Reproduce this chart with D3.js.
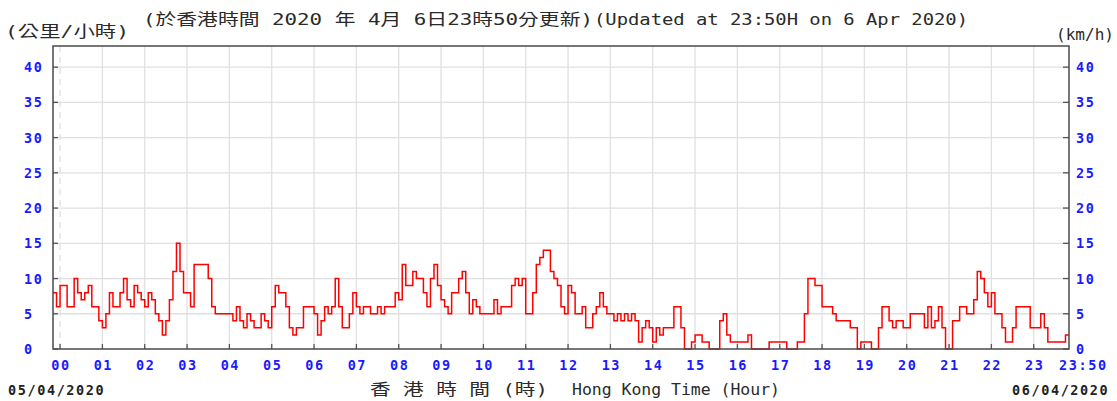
<!DOCTYPE html>
<html><head><meta charset="utf-8">
<script src="https://cdn.jsdelivr.net/npm/d3@7"></script>
<style>body{margin:0;background:#fff;}svg{display:block;}</style>
</head><body>
<svg id="chart" width="1117" height="401"></svg>
<script>
// ---- data ----
const startMinute = -10;   // 23:50 on 05/04/2020
const stepMinutes = 5;
const speeds = [
  8, 6,
  9, 9, 6, 6, 10, 8, 7, 8, 9, 6, 6, 4,
  3, 5, 8, 6, 6, 8, 10, 7, 6, 9, 8, 7,
  6, 8, 7, 5, 4, 2, 4, 7, 11, 15, 11, 8,
  8, 6, 12, 12, 12, 12, 10, 6, 5, 5, 5, 5,
  5, 4, 6, 4, 3, 5, 4, 3, 3, 5, 4, 3,
  6, 9, 8, 8, 6, 3, 2, 3, 3, 6, 6, 6,
  5, 2, 4, 6, 5, 6, 10, 6, 3, 3, 5, 8,
  6, 5, 6, 6, 5, 5, 6, 5, 6, 6, 6, 8,
  7, 12, 9, 9, 11, 10, 10, 8, 6, 10, 12, 9,
  7, 6, 5, 8, 8, 10, 11, 8, 5, 7, 6, 5,
  5, 5, 5, 7, 5, 6, 6, 6, 9, 10, 9, 10,
  5, 5, 8, 12, 13, 14, 14, 11, 10, 9, 6, 5,
  9, 8, 5, 5, 6, 3, 3, 5, 6, 8, 6, 5,
  5, 4, 5, 4, 5, 4, 5, 4, 1, 3, 4, 3,
  1, 3, 2, 3, 3, 3, 6, 6, 3, 0, 0, 1,
  2, 2, 1, 1, 0, 0, 0, 4, 5, 2, 1, 1,
  1, 1, 1, 2, 0, 0, 0, 0, 0, 1, 1, 1,
  1, 1, 0, 0, 0, 1, 1, 5, 10, 10, 9, 9,
  6, 6, 6, 5, 4, 4, 4, 4, 3, 3, 0, 1,
  1, 1, 0, 0, 3, 6, 6, 4, 3, 4, 4, 3,
  3, 5, 5, 5, 5, 3, 6, 3, 4, 6, 3, 0,
  0, 4, 4, 6, 6, 5, 5, 7, 11, 10, 8, 6,
  8, 5, 5, 3, 1, 1, 3, 6, 6, 6, 6, 3,
  3, 3, 5, 3, 1, 1, 1, 1, 1, 2, 2
];
const hourLabels = ["00","01","02","03","04","05","06","07","08","09","10","11",
                    "12","13","14","15","16","17","18","19","20","21","22","23"];
const endLabel = "23:50";
const endMinute = 1430;
const yTickValues = [0, 5, 10, 15, 20, 25, 30, 35, 40];
const yMax = 43;
const unitLeft = "(公里/小時)";
const unitRight = "(km/h)";
const titleZh = "(於香港時間 2020 年 4月 6日23時50分更新)";
const titleEn = "(Updated at 23:50H on 6 Apr 2020)";
const xTitleZh = "香 港 時 間 (時)";
const xTitleEn = "Hong Kong Time (Hour)";
const dateStart = "05/04/2020";
const dateEnd = "06/04/2020";

// ---- layout ----
const svg = d3.select("#chart");
const L = 53, R = 1069, T = 46, B = 349;
const x = d3.scaleLinear().domain([startMinute, endMinute]).range([L, R]);
const y = d3.scaleLinear().domain([0, yMax]).range([B, T]);
const mono = "'DejaVu Sans Mono','Noto Sans CJK TC',monospace";
const blue = "#1a1aff";

const data = speeds.map((v, i) => ({t: startMinute + i * stepMinutes, v}));
const hourMinutes = hourLabels.map((h, i) => i * 60);

// grid
const g = svg.append("g");
g.selectAll("line.vg").data(hourMinutes).join("line")
  .attr("x1", d => x(d)).attr("x2", d => x(d)).attr("y1", T).attr("y2", B)
  .attr("stroke", "#e0e0e0").attr("stroke-width", 1.3)
  .attr("stroke-dasharray", d => d === 0 ? "6,5" : null);
g.selectAll("line.hg").data(yTickValues.filter(d => d > 0)).join("line")
  .attr("x1", L).attr("x2", R).attr("y1", d => y(d)).attr("y2", d => y(d))
  .attr("stroke", "#e0e0e0").attr("stroke-width", 1.3);

// ticks (inside)
g.selectAll("line.bt").data(hourMinutes).join("line")
  .attr("x1", d => x(d)).attr("x2", d => x(d)).attr("y1", B).attr("y2", B - 5)
  .attr("stroke", "#555").attr("stroke-width", 1.3);
g.selectAll("line.lt").data(yTickValues).join("line")
  .attr("x1", L).attr("x2", L + 5).attr("y1", d => y(d)).attr("y2", d => y(d))
  .attr("stroke", "#555").attr("stroke-width", 1.3);
g.selectAll("line.rt").data(yTickValues).join("line")
  .attr("x1", R - 6).attr("x2", R).attr("y1", d => y(d)).attr("y2", d => y(d))
  .attr("stroke", "#555").attr("stroke-width", 1.3);

// series
const line = d3.line().x(d => x(d.t)).y(d => y(d.v)).curve(d3.curveStepAfter);
svg.append("path").datum(data).attr("d", line)
  .attr("fill", "none").attr("stroke", "#ff0000").attr("stroke-width", 1.5)
  .attr("stroke-linejoin", "miter");

// frame
svg.append("rect").attr("x", L).attr("y", T).attr("width", R - L).attr("height", B - T)
  .attr("fill", "none").attr("stroke", "#4a4a4a").attr("stroke-width", 1.5);

// tick labels
const lab = svg.append("g").attr("font-family", mono).attr("font-weight", "bold")
  .attr("font-size", 13.5).attr("fill", blue).attr("letter-spacing", "1.6px");
lab.selectAll("text.yl").data(yTickValues).join("text")
  .attr("x", 24).attr("y", d => y(d) + 5).text(d => d);
lab.selectAll("text.yr").data(yTickValues).join("text")
  .attr("x", 1076).attr("y", d => y(d) + 5).text(d => d);
lab.selectAll("text.xl").data(hourLabels).join("text")
  .attr("x", (d, i) => x(i * 60) + 1).attr("y", 370).attr("text-anchor", "middle").text(d => d);
lab.append("text").attr("x", x(endMinute) - 10).attr("y", 370).text(endLabel);

// dates
const dl = svg.append("g").attr("font-family", mono).attr("font-weight", "bold")
  .attr("font-size", 13.5).attr("fill", "#222").attr("letter-spacing", "1.6px");
dl.append("text").attr("x", 8).attr("y", 395).text(dateStart);
dl.append("text").attr("x", 1012).attr("y", 395).text(dateEnd);

// titles
const tt = svg.append("g").attr("font-family", mono).attr("font-size", 16).attr("fill", "#2a2a2a");
tt.append("text").attr("x", 5).attr("y", 37).attr("textLength", 124).attr("lengthAdjust", "spacingAndGlyphs").text(unitLeft);
tt.append("text").attr("x", 143).attr("y", 25).attr("textLength", 450).attr("lengthAdjust", "spacingAndGlyphs").text(titleZh);
tt.append("text").attr("x", 594).attr("y", 25).attr("textLength", 374).attr("lengthAdjust", "spacingAndGlyphs").text(titleEn);
tt.append("text").attr("x", 1056).attr("y", 40).attr("textLength", 58).attr("lengthAdjust", "spacingAndGlyphs").text(unitRight);
tt.append("text").attr("x", 370).attr("y", 395).attr("textLength", 178).attr("lengthAdjust", "spacingAndGlyphs").text(xTitleZh);
tt.append("text").attr("x", 572).attr("y", 395).attr("textLength", 208).attr("lengthAdjust", "spacingAndGlyphs").text(xTitleEn);
</script>
</body></html>
